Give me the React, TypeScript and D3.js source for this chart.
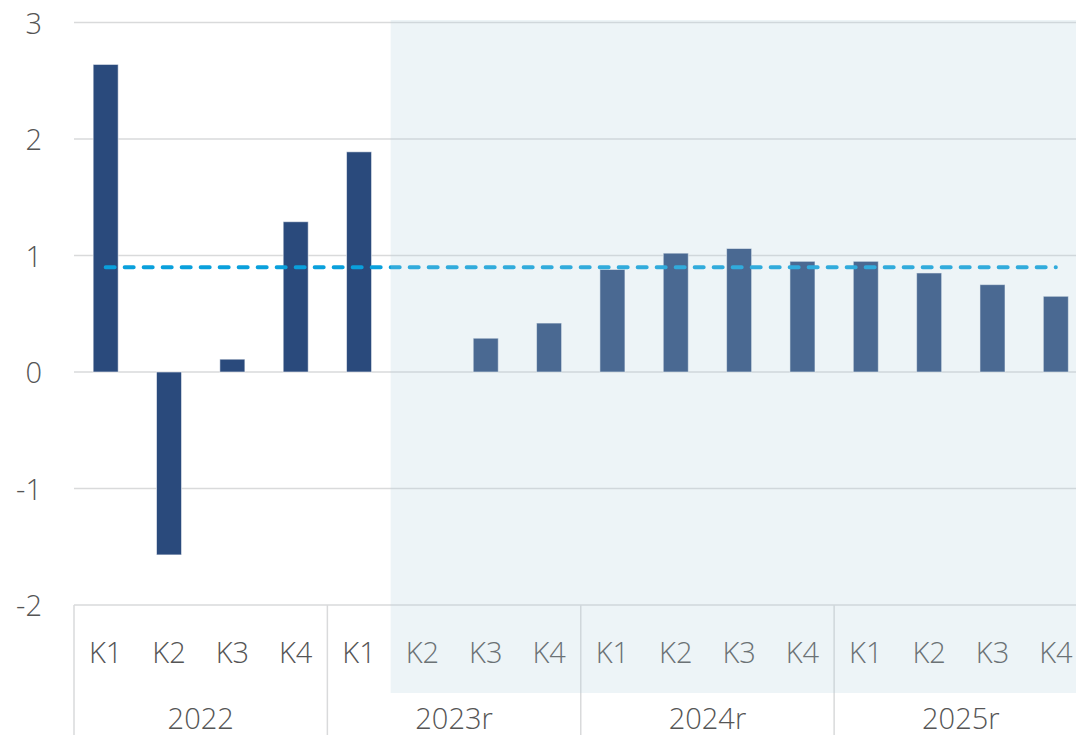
import React from "react";
import * as d3 from "d3";

// Quarterly change, per cent
const years = ["2022", "2023r", "2024r", "2025r"];
const quarters = ["K1", "K2", "K3", "K4"];
const values = [2.64, -1.57, 0.11, 1.29, 1.89, 0.0, 0.29, 0.42, 0.88, 1.02, 1.06, 0.95, 0.95, 0.85, 0.75, 0.65];
const averageValue = 0.9;
const yTicks = [3, 2, 1, 0, -1, -2];
// First projected quarter (2023r K2) onwards is shaded
const projectionStart = 5;

const W = 1076;
const H = 735;
const FONT = "'Open Sans', 'Segoe UI', sans-serif";

export default function App() {
  const categories = years.flatMap((y) => quarters.map((q) => `${y}-${q}`));
  const left = 74;
  const right = 1087.5;
  const x = d3.scaleBand<string>().domain(categories).range([left, right]).padding(0);
  const y = d3.scaleLinear().domain([-2, 3]).range([605, 22.5]);
  const step = x.step();
  const barW = step * 0.395;
  const cx = (i: number) => (x(categories[i]) as number) + step / 2;

  const shadeX = x(categories[projectionStart]) as number;
  const line = d3.line<number>()
    .x((d) => d)
    .y(() => y(averageValue));

  return (
    <div style={{ position: "fixed", left: 0, top: 0, width: W, height: H, overflow: "hidden", background: "#fff" }}>
      <svg width={W} height={H} style={{ display: "block" }}>
        {/* gridlines */}
        {yTicks.map((t) => (
          <line key={t} x1={left} x2={W} y1={y(t)} y2={y(t)} stroke="#d9dadb" strokeWidth={1.5} />
        ))}
        {/* y tick labels */}
        {yTicks.map((t) => (
          <text key={"l" + t} x={42} y={y(t) + 11} textAnchor="end" fontFamily={FONT} fontWeight={300}
            fontSize={29} fill="#555">{t}</text>
        ))}
        {/* year separators on the category axis */}
        {d3.range(years.length + 1).map((k) => {
          const xx = left + k * 4 * step;
          return <line key={"s" + k} x1={xx} x2={xx} y1={y(-2)} y2={H} stroke="#d9dadb" strokeWidth={1.5} />;
        })}
        {/* bars */}
        {values.map((v, i) => (
          <rect key={"b" + i} x={cx(i) - barW / 2} width={barW}
            y={Math.min(y(v), y(0))} height={Math.abs(y(v) - y(0))}
            fill="#2a4a7c" stroke="rgba(255,255,255,0.55)" strokeWidth={1} />
        ))}
        {/* average line */}
        <path d={line([cx(0), cx(values.length - 1)]) || ""} fill="none" stroke="#0aa0dc" strokeWidth={4}
          strokeDasharray="9 10" strokeLinecap="round" />
        {/* quarter labels */}
        {categories.map((c, i) => (
          <text key={"q" + i} x={cx(i)} y={663} textAnchor="middle" fontFamily={FONT} fontWeight={300}
            fontSize={29} fill="#555">{quarters[i % 4]}</text>
        ))}
        {/* year labels */}
        {years.map((yr, k) => (
          <text key={"y" + k} x={left + (k * 4 + 2) * step} y={729} textAnchor="middle" fontFamily={FONT}
            fontWeight={300} fontSize={29} fill="#555">{yr}</text>
        ))}
        {/* projection shading */}
        <rect x={shadeX} y={20} width={W - shadeX} height={673} fill="rgb(178,209,220)" fillOpacity={0.235} />
      </svg>
    </div>
  );
}
